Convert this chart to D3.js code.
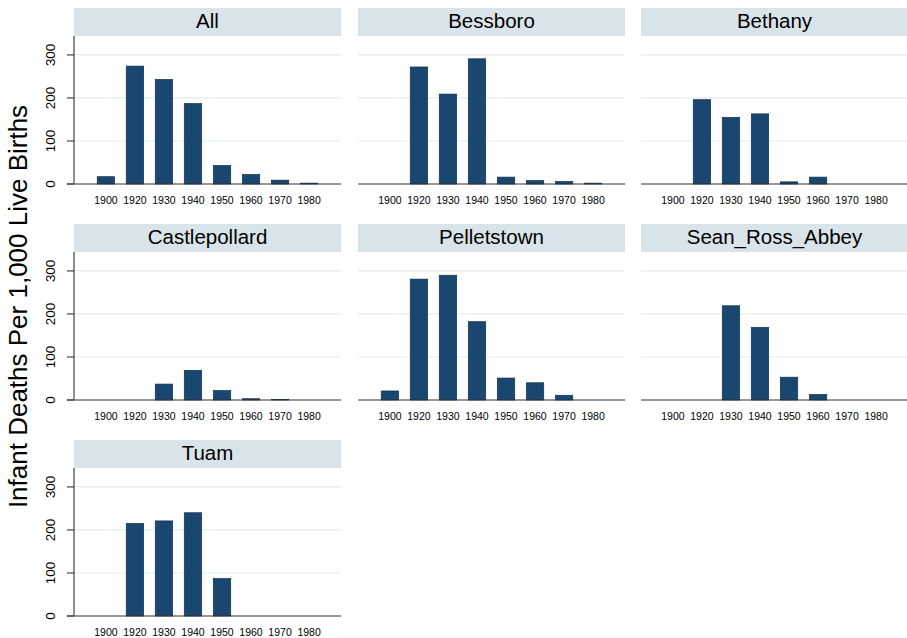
<!DOCTYPE html>
<html>
<head>
<meta charset="utf-8">
<script src="https://cdn.jsdelivr.net/npm/d3@7"></script>
<style>
  body { margin: 0; background: #fff; }
  text { font-family: "Liberation Sans", Arial, sans-serif; fill: #000; }
</style>
</head>
<body>
<script>
var width = 907,
    height = 638;

// decades on the x axis of every panel
var years = ["1900", "1920", "1930", "1940", "1950", "1960", "1970", "1980"];
var homes = ["All", "Bessboro", "Bethany", "Castlepollard", "Pelletstown", "Sean_Ross_Abbey", "Tuam"];
var yTicks = [0, 100, 200, 300];

// infant deaths per 1,000 live births, one value per decade
var allValues           = [17, 274, 243, 187, 43, 22, 9, 2];
var bessboroValues      = [0, 272, 209, 291, 16, 8, 6, 2];
var bethanyValues       = [0, 196, 155, 163, 5, 16, 0, 0];
var castlepollardValues = [0, 0, 37, 69, 22, 3, 1, 0];
var pelletstownValues   = [21, 281, 290, 182, 51, 40, 11, 0];
var seanRossValues      = [0, 0, 219, 169, 53, 13, 0, 0];
var tuamValues          = [0, 215, 221, 240, 87, 0, 0, 0];

var series = [allValues, bessboroValues, bethanyValues, castlepollardValues,
              pelletstownValues, seanRossValues, tuamValues];

var colLeft = [74, 358, 641],
    rowTop = [8, 224, 440],
    panelW = 267,
    stripH = 28,
    plotH = 148;

var svg = d3.select("body").append("svg")
    .attr("width", width)
    .attr("height", height);

var x = d3.scaleBand()
    .domain(years)
    .range([0, panelW])
    .paddingInner(0.4)
    .paddingOuter(0.8);

var y = d3.scaleLinear()
    .domain([0, 344])
    .range([plotH, 0]);

homes.forEach(function (name, i) {
    var col = i % 3,
        row = Math.floor(i / 3);
    var g = svg.append("g")
        .attr("transform", "translate(" + colLeft[col] + "," + rowTop[row] + ")");

    // strip header
    g.append("rect")
        .attr("width", panelW)
        .attr("height", stripH)
        .attr("fill", "#d8e4ea");
    g.append("text")
        .attr("x", panelW / 2)
        .attr("y", 20.3)
        .attr("text-anchor", "middle")
        .style("font-size", "20.5px")
        .text(name);

    var plot = g.append("g").attr("transform", "translate(0," + stripH + ")");

    // grid lines
    plot.selectAll(".grid")
        .data(yTicks.slice(1))
        .enter().append("line")
        .attr("x1", 0)
        .attr("x2", panelW)
        .attr("y1", function (d) { return y(d); })
        .attr("y2", function (d) { return y(d); })
        .attr("stroke", "#e3ecef")
        .attr("stroke-width", 1.2);

    var bars = years.map(function (yr, j) { return { year: yr, value: series[i][j] }; })
        .filter(function (d) { return d.value > 0; });

    plot.selectAll(".bar")
        .data(bars)
        .enter().append("rect")
        .attr("x", function (d) { return x(d.year); })
        .attr("width", x.bandwidth())
        .attr("y", function (d) { return y(d.value); })
        .attr("height", function (d) { return plotH - y(d.value); })
        .attr("fill", "#1a476f")
        .attr("stroke", "#12324f")
        .attr("stroke-width", 0.7);

    // x tick labels
    plot.selectAll(".xl")
        .data(years)
        .enter().append("text")
        .attr("x", function (d) { return x(d) + x.bandwidth() / 2; })
        .attr("y", plotH + 19.5)
        .attr("text-anchor", "middle")
        .style("font-size", "10.5px")
        .text(function (d) { return d; });

    // baseline
    plot.append("line")
        .attr("x1", col == 0 ? -7 : 0)
        .attr("x2", panelW)
        .attr("y1", plotH)
        .attr("y2", plotH)
        .attr("stroke", "#333")
        .attr("stroke-width", 1.2);

    if (col == 0) {
        plot.append("line")
            .attr("x1", 0).attr("x2", 0)
            .attr("y1", 0).attr("y2", plotH)
            .attr("stroke", "#444")
            .attr("stroke-width", 1.2);
        plot.selectAll(".yt")
            .data(yTicks)
            .enter().append("line")
            .attr("x1", -7).attr("x2", 0)
            .attr("y1", function (d) { return y(d); })
            .attr("y2", function (d) { return y(d); })
            .attr("stroke", "#444")
            .attr("stroke-width", 1.2);
        plot.selectAll(".yl")
            .data(yTicks)
            .enter().append("text")
            .attr("transform", function (d) { return "translate(" + (-19.5) + "," + y(d) + ") rotate(-90)"; })
            .attr("text-anchor", "middle")
            .style("font-size", "13.4px")
            .text(function (d) { return d; });
    }
});

svg.append("text")
    .attr("transform", "translate(26.7,306.5) rotate(-90)")
    .attr("text-anchor", "middle")
    .style("font-size", "26px")
    .text("Infant Deaths Per 1,000 Live Births");
</script>
</body>
</html>
